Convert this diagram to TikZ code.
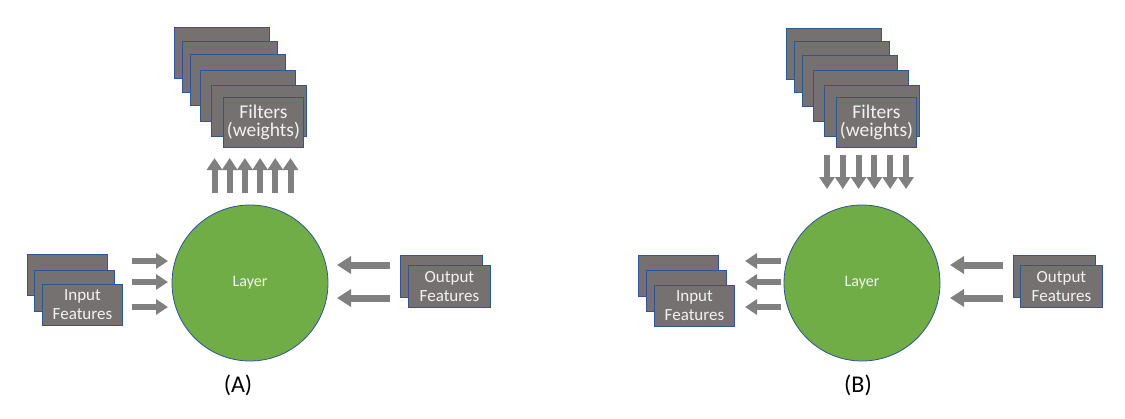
\documentclass[tikz,border=0pt]{standalone}
\usepackage{fontspec}
\setmainfont{Carlito}
\usetikzlibrary{arrows.meta}
\definecolor{boxgray}{HTML}{767171}
\definecolor{boxblue}{HTML}{2F5597}
\definecolor{arrgray}{HTML}{808080}
\definecolor{layergreen}{HTML}{70AD47}
\definecolor{txtwhite}{HTML}{F2F2F2}
\tikzset{
  featbox/.style={rectangle, anchor=north west, fill=boxgray, draw=boxblue, line width=0.9pt,
    inner sep=0pt, text=txtwhite, align=center, font=\fontsize{17}{19}\selectfont},
  filtbox/.style={featbox, font=\fontsize{19.5}{17.5}\selectfont},
  layer/.style={circle, fill=layergreen, draw=boxblue, line width=0.8pt, minimum size=156pt,
    inner sep=0pt, text=txtwhite, font=\fontsize{16}{18}\selectfont},
  smallarr/.style={draw=arrgray, line width=6pt, -{Triangle[width=15pt,length=12pt]}},
  bigarr/.style={draw=arrgray, line width=7pt, -{Triangle[width=17pt,length=14pt]}},
  caption/.style={font=\fontsize{24}{28}\selectfont, text=black}
}
\begin{document}
\begin{tikzpicture}[x=1pt,y=-1pt]
\useasboundingbox (0,0) rectangle (1125,418);
% ---------------- Panel A ----------------
\foreach \i/\x/\y in {1/174/27,2/182/41,3/190/54,4/200/70,5/211/85}
  \node[filtbox, minimum width=95pt, minimum height=51pt] (A-f\i) at (\x,\y) {};
\node[filtbox, minimum width=80pt, minimum height=50pt] (A-f6) at (223,97) {Filters\\(weights)};
\foreach \i/\x/\y in {1/27/254,2/34/270}
  \node[featbox, minimum width=80pt, minimum height=41pt] (A-in\i) at (\x,\y) {};
\node[featbox, minimum width=80pt, minimum height=41pt] (A-in3) at (42,284) {Input\\Features};
\node[featbox, minimum width=82pt, minimum height=42pt] (A-out1) at (400,255) {};
\node[featbox, minimum width=82pt, minimum height=42pt] (A-out2) at (408,265) {Output\\Features};
\node[layer] (A-layer) at (250,283) {Layer};
\foreach \i/\y in {1/261,2/282,3/307}{
  \coordinate (A-ia\i) at (132,\y); \coordinate (A-ib\i) at (168,\y);
  \draw[smallarr] (A-ia\i) -- (A-ib\i);}
\foreach \i in {0,...,5}{
  \coordinate (A-wa\i) at (214.5+15.2*\i,193); \coordinate (A-wb\i) at (214.5+15.2*\i,158);
  \draw[smallarr] (A-wa\i) -- (A-wb\i);}
\foreach \i/\y in {1/265,2/298}{
  \coordinate (A-oa\i) at (390,\y); \coordinate (A-ob\i) at (337,\y);
  \draw[bigarr] (A-oa\i) -- (A-ob\i);}
\node[caption] (A-cap) at (238,385) {(A)};
% ---------------- Panel B ----------------
\foreach \i/\x/\y in {1/786/28,2/794/41,3/802/55,4/813/70,5/824/85}
  \node[filtbox, minimum width=95pt, minimum height=51pt] (B-f\i) at (\x,\y) {};
\node[filtbox, minimum width=80pt, minimum height=50pt] (B-f6) at (836,97) {Filters\\(weights)};
\foreach \i/\x/\y in {1/638/255,2/646/270}
  \node[featbox, minimum width=80pt, minimum height=41pt] (B-in\i) at (\x,\y) {};
\node[featbox, minimum width=80pt, minimum height=41pt] (B-in3) at (654,285) {Input\\Features};
\node[featbox, minimum width=82pt, minimum height=42pt] (B-out1) at (1013,255) {};
\node[featbox, minimum width=82pt, minimum height=42pt] (B-out2) at (1020,265) {Output\\Features};
\node[layer] (B-layer) at (862,283) {Layer};
\foreach \i/\y in {1/261,2/282,3/307}{
  \coordinate (B-ia\i) at (781,\y); \coordinate (B-ib\i) at (745,\y);
  \draw[smallarr] (B-ia\i) -- (B-ib\i);}
\foreach \i in {0,...,5}{
  \coordinate (B-wa\i) at (827+15.8*\i,155); \coordinate (B-wb\i) at (827+15.8*\i,189);
  \draw[smallarr] (B-wa\i) -- (B-wb\i);}
\foreach \i/\y in {1/265,2/298}{
  \coordinate (B-oa\i) at (1003,\y); \coordinate (B-ob\i) at (950,\y);
  \draw[bigarr] (B-oa\i) -- (B-ob\i);}
\node[caption] (B-cap) at (858,385) {(B)};
\end{tikzpicture}
\end{document}
